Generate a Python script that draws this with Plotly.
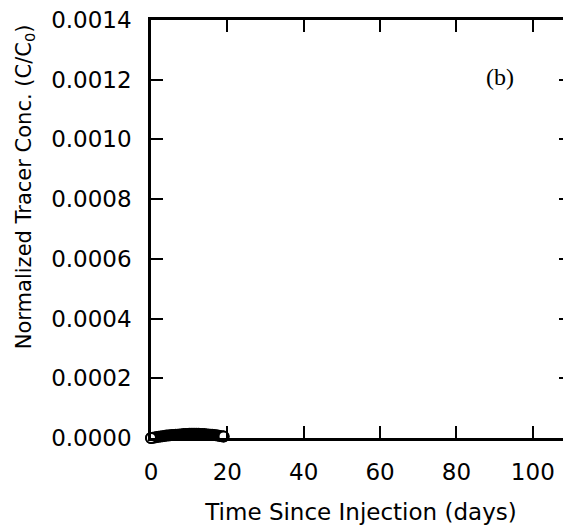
import plotly.graph_objects as go

days = [0.0, 0.5, 1.0, 1.5, 2.0, 2.5, 3.0, 3.5, 4.0, 4.5, 5.0, 5.5, 6.0, 6.5, 7.0, 7.5,
        8.0, 8.5, 9.0, 9.5, 10.0, 10.5, 11.0, 11.5, 12.0, 12.5, 13.0, 13.5, 14.0, 14.5,
        15.0, 15.5, 16.0, 16.5, 17.0, 17.5, 18.0, 18.5, 19.0]
conc = [0.0, 0.1e-5, 0.2e-5, 0.3e-5, 0.4e-5, 0.5e-5, 0.6e-5, 0.7e-5, 0.8e-5, 0.8e-5,
        0.9e-5, 1.0e-5, 1.0e-5, 1.1e-5, 1.1e-5, 1.2e-5, 1.2e-5, 1.3e-5, 1.3e-5, 1.3e-5,
        1.4e-5, 1.4e-5, 1.4e-5, 1.4e-5, 1.4e-5, 1.4e-5, 1.3e-5, 1.3e-5, 1.3e-5, 1.2e-5,
        1.2e-5, 1.1e-5, 1.1e-5, 1.0e-5, 0.9e-5, 0.8e-5, 0.7e-5, 0.6e-5, 0.5e-5]

x_ticks = [0, 20, 40, 60, 80, 100]
y_ticks = [0, 0.0002, 0.0004, 0.0006, 0.0008, 0.0010, 0.0012, 0.0014]

fig = go.Figure()
fig.add_trace(go.Scatter(
    x=days, y=conc, mode='markers', cliponaxis=False,
    marker=dict(symbol='circle', size=10, color='black',
                line=dict(color='black', width=2))
))
# open circles at the ends
fig.add_trace(go.Scatter(
    x=[days[0], days[-1]], y=[conc[0], conc[-1]], mode='markers', cliponaxis=False,
    marker=dict(symbol='circle', size=10, color='white',
                line=dict(color='black', width=2))
))

fig.add_annotation(x=91.5, y=0.00121, text='(b)', showarrow=False,
                   font=dict(family='Liberation Serif', size=24, color='black'))

# y title sits above the plot centre in the original, so draw it as an annotation
fig.add_annotation(xref='paper', yref='paper', x=0, y=0.6, xshift=-126,
                   xanchor='center', yanchor='middle', textangle=-90, showarrow=False,
                   text='Normalized Tracer Conc. (C/C<sub>0</sub>)',
                   font=dict(family='DejaVu Sans', size=21, color='black'))

axis_common = dict(ticks='inside', ticklen=12, tickwidth=2, tickcolor='black',
                   showline=True, linewidth=2.5, linecolor='black', mirror='allticks',
                   showgrid=False, zeroline=False, automargin=False,
                   ticklabeloverflow='allow',
                   tickfont=dict(family='DejaVu Sans', size=23, color='black'))

fig.update_xaxes(range=[0, 110], tickvals=x_ticks, ticklabelstandoff=12,
                 title=dict(text='Time Since Injection (days)', standoff=20,
                            font=dict(family='DejaVu Sans', size=23, color='black')),
                 **axis_common)
fig.update_yaxes(range=[0, 0.0014], tickvals=y_ticks, tickformat='.4f', ticklabelstandoff=12,
                 **axis_common)

# page body adds a small offset, so the figure is sized to fit the window
fig.update_layout(width=563, height=522, showlegend=False,
                  plot_bgcolor='white', paper_bgcolor='white',
                  margin=dict(l=143, r=0, t=12, b=92))

fig.write_html("out.html")
